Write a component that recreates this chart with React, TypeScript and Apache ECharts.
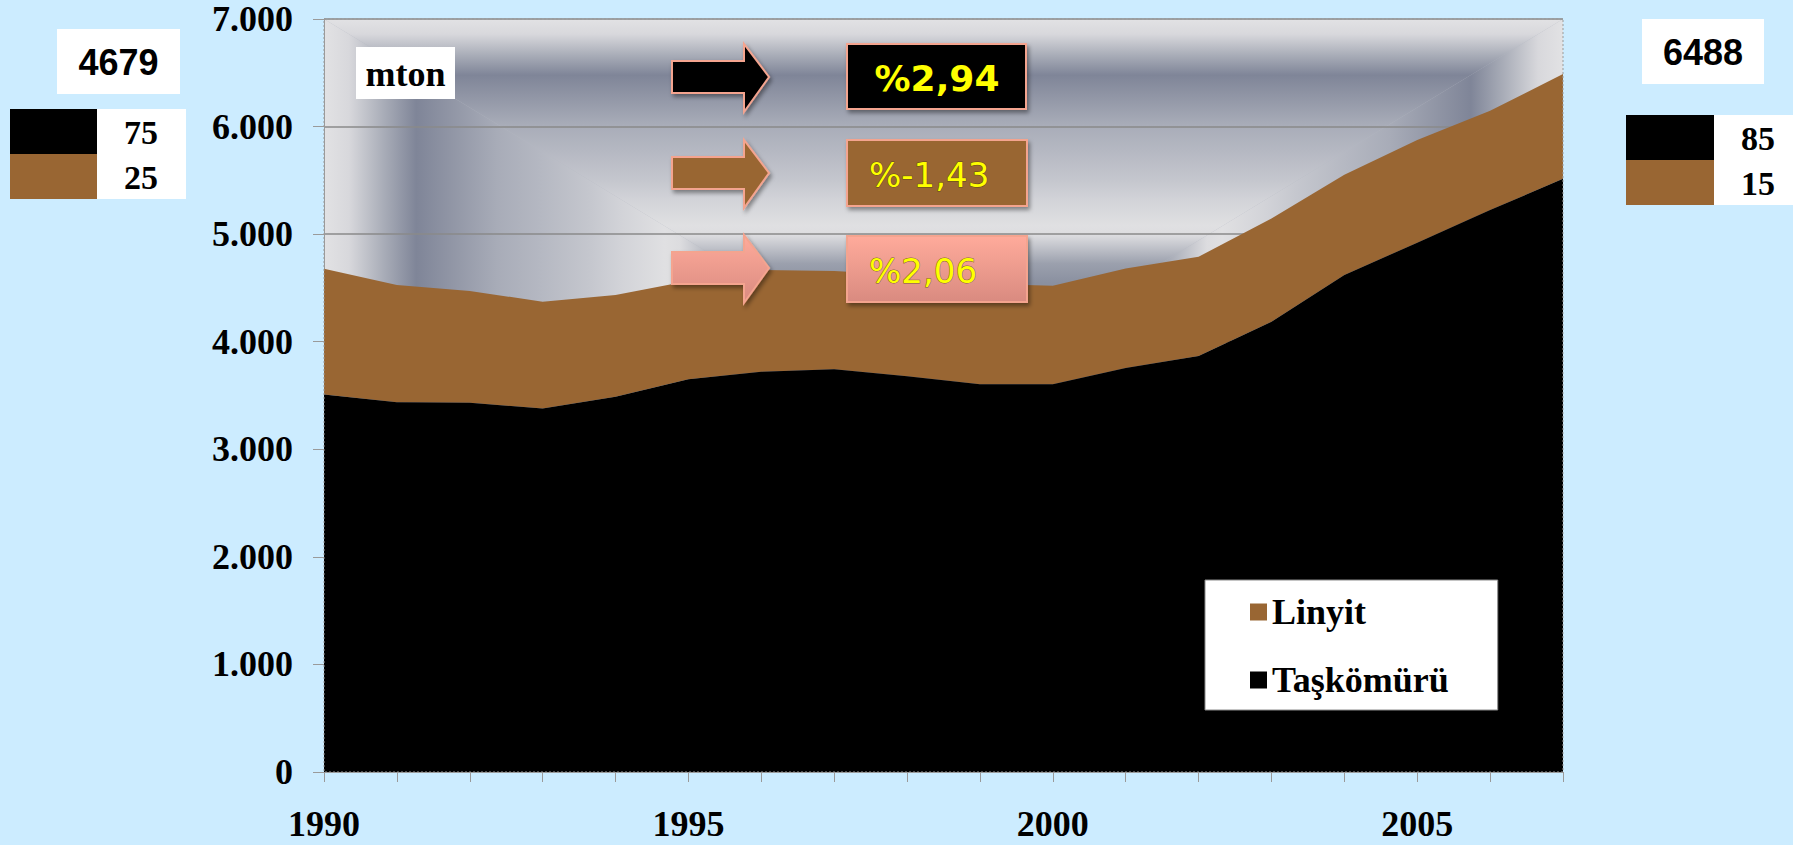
import React, { useEffect, useRef } from "react";
import * as echarts from "echarts";

// World coal production (million tonnes), stacked: hard coal + lignite
const years = [
  "1990", "1991", "1992", "1993", "1994", "1995", "1996", "1997", "1998",
  "1999", "2000", "2001", "2002", "2003", "2004", "2005", "2006", "2007",
];
const taskomuru = [
  3509, 3437, 3433, 3378, 3489, 3650, 3721, 3745, 3680,
  3605, 3605, 3755, 3867, 4186, 4620, 4921, 5224, 5515,
];
const linyit = [
  1170, 1090, 1039, 994, 945, 915, 946, 912, 940,
  935, 916, 925, 923, 959, 933, 954, 922, 973,
];
// Annual growth rates: hard coal, lignite, total
const growthLabels = ["%2,94", "%-1,43", "%2,06"];

const BROWN = "#996633";
const PAGE_BG = "#CCECFF";
const SALMON = "#F4A48F";

const fmtThousands = (v: number) =>
  String(v).replace(/\B(?=(\d{3})+(?!\d))/g, ".");

export default function App() {
  const ref = useRef<HTMLDivElement>(null);

  useEffect(() => {
    if (!ref.current) return;
    const chart = echarts.init(ref.current, null, { renderer: "svg" });

    // plot rectangle
    const L = 324, T = 19, R = 1563, B = 772;
    const CX = (L + R) / 2, CY = (T + B) / 2;

    const bgStops = [
      { offset: 0, color: "#e2e2e4" },
      { offset: 0.04, color: "#d8d8dc" },
      { offset: 0.096, color: "#a9adb8" },
      { offset: 0.149, color: "#7f8598" },
      { offset: 0.2, color: "#8f94a4" },
      { offset: 0.28, color: "#a8acb8" },
      { offset: 0.35, color: "#b5b8c2" },
      { offset: 0.43, color: "#c5c7ce" },
      { offset: 0.48, color: "#d2d3d8" },
      { offset: 0.55, color: "#e0e0e2" },
      { offset: 0.575, color: "#dcdcdf" },
      { offset: 0.65, color: "#9ba0ad" },
      { offset: 0.7, color: "#8a90a0" },
      { offset: 1, color: "#8a90a0" },
    ];
    const grad = (x: number, y: number, x2: number, y2: number) =>
      new echarts.graphic.LinearGradient(x, y, x2, y2, bgStops);

    const tri = (pts: number[][], fill: any) => ({
      type: "polygon",
      silent: true,
      z: -10,
      shape: { points: pts },
      style: { fill },
    });

    const totalFirst = taskomuru[0] + linyit[0];
    const totalLast = taskomuru[taskomuru.length - 1] + linyit[linyit.length - 1];
    const pct = (a: number, t: number) => String(Math.round((a / t) * 100));

    const txt = (
      x: number, y: number, text: string, font: string, fill = "#000",
      align = "center", extra: any = {}
    ) => ({
      type: "text",
      x, y, z: 120, silent: true,
      style: {
        text, font, fill,
        align, textAlign: align,
        verticalAlign: "middle", textVerticalAlign: "middle",
        ...extra,
      },
    });
    const box = (x: number, y: number, w: number, h: number, fill: any, extra: any = {}) => ({
      type: "rect", z: 110, silent: true,
      shape: { x, y, width: w, height: h },
      style: { fill, ...extra },
    });

    const arrowPts = (dy: number) => [
      [672, 61 + dy], [744, 61 + dy], [744, 44 + dy], [769, 77 + dy],
      [744, 112 + dy], [744, 93 + dy], [672, 93 + dy],
    ];
    const shadow = {
      shadowBlur: 4, shadowOffsetX: 2, shadowOffsetY: 3,
      shadowColor: "rgba(0,0,0,0.4)",
    };
    const pink = () =>
      new echarts.graphic.LinearGradient(0, 0, 0, 1, [
        { offset: 0, color: "#ffab9b" },
        { offset: 1, color: "#d98a80" },
      ]);
    const arrow = (dy: number, fill: any) => ({
      type: "polygon", z: 110, silent: true,
      shape: { points: arrowPts(dy) },
      style: { fill, stroke: SALMON, lineWidth: 2, ...shadow },
    });

    const serifBold = (s: number) => `bold ${s}px "Liberation Serif", "Times New Roman", serif`;
    const sansBold = (s: number) => `bold ${s}px "Liberation Sans", Arial, sans-serif`;

    const graphic: any[] = [
      { type: "rect", silent: true, z: -11, shape: { x: L, y: T, width: R - L, height: B - T }, style: { fill: "#b4b8c2" } },
      tri([[L, T], [R, T], [CX, CY]], grad(0, 0, 0, 1)),
      tri([[L, T], [L, B], [CX, CY]], grad(0, 0, 1, 0)),
      tri([[R, T], [R, B], [CX, CY]], grad(1, 0, 0, 0)),
      tri([[L, B], [R, B], [CX, CY]], grad(0, 1, 0, 0)),
      // plot frame
      {
        type: "rect", silent: true, z: 50,
        shape: { x: L, y: T, width: R - L, height: B - T },
        style: { fill: "none", stroke: "#9a9a9a", lineWidth: 1, lineDash: [2, 2] },
      },
      // unit label
      box(356, 47, 99, 52, "#ffffff"),
      txt(405.5, 74, "mton", serifBold(36)),
      // growth arrows and boxes
      arrow(0, "#000000"),
      arrow(96, BROWN),
      arrow(191, pink()),
      box(847, 44, 179, 65, "#000000", { stroke: SALMON, lineWidth: 2, ...shadow }),
      box(847, 140, 180, 66, BROWN, { stroke: SALMON, lineWidth: 2, ...shadow }),
      box(847, 236, 180, 66, pink(), { stroke: SALMON, lineWidth: 2, ...shadow }),
      txt(937, 78, growthLabels[0], `bold 36px "DejaVu Sans", Verdana, sans-serif`, "#ffff00"),
      txt(869, 175, growthLabels[1], `34px "DejaVu Sans", Verdana, sans-serif`, "#ffff00", "left",
        { stroke: "rgba(70,60,0,0.7)", lineWidth: 1 }),
      txt(869, 271, growthLabels[2], `34px "DejaVu Sans", Verdana, sans-serif`, "#ffff00", "left",
        { stroke: "rgba(70,60,0,0.7)", lineWidth: 1 }),
      // first year summary
      box(57, 29, 123, 65, "#ffffff"),
      txt(118.5, 62, String(totalFirst), sansBold(36)),
      box(97, 109, 89, 90, "#ffffff"),
      box(10, 109, 87, 45, "#000000"),
      box(10, 154, 87, 45, BROWN),
      txt(141, 132, pct(taskomuru[0], totalFirst), serifBold(34)),
      txt(141, 177, pct(linyit[0], totalFirst), serifBold(34)),
      // last year summary
      box(1642, 19, 122, 65, "#ffffff"),
      txt(1703, 52, String(totalLast), sansBold(36)),
      box(1714, 115, 79, 90, "#ffffff"),
      box(1626, 115, 88, 45, "#000000"),
      box(1626, 160, 88, 45, BROWN),
      txt(1758, 138, pct(taskomuru[taskomuru.length - 1], totalLast), serifBold(34)),
      txt(1758, 183, pct(linyit[linyit.length - 1], totalLast), serifBold(34)),
    ];

    const labelFont = {
      fontFamily: '"Liberation Serif", "Times New Roman", serif',
      fontWeight: "bold" as const,
      fontSize: 36,
      color: "#000",
    };

    chart.setOption({
      animation: false,
      backgroundColor: PAGE_BG,
      grid: { left: L, top: T, width: R - L, height: B - T, containLabel: false },
      legend: {
        left: 1205,
        top: 580,
        orient: "vertical",
        backgroundColor: "#ffffff",
        borderColor: "#8a8a8a",
        borderWidth: 1,
        padding: [14, 49, 12, 45],
        itemWidth: 17,
        itemHeight: 17,
        itemGap: 32,
        icon: "rect",
        z: 60,
        data: ["Linyit", "Taşkömürü"],
        textStyle: {
          fontFamily: '"Liberation Serif", "Times New Roman", serif',
          fontWeight: "bold",
          fontSize: 36,
          lineHeight: 36,
          color: "#000",
        },
      },
      xAxis: {
        type: "category",
        data: years,
        boundaryGap: false,
        axisLine: { show: true, lineStyle: { color: "#9a9a9a", width: 1 } },
        axisTick: { show: true, interval: 0, length: 10, lineStyle: { color: "#9a9a9a" } },
        axisLabel: {
          ...labelFont,
          margin: 34,
          interval: (i: number) => i % 5 === 0,
        },
        splitLine: { show: false },
      },
      yAxis: {
        type: "value",
        min: 0,
        max: 7000,
        interval: 1000,
        axisLine: { show: true, lineStyle: { color: "#9a9a9a", width: 1 } },
        axisTick: { show: true, length: 11, lineStyle: { color: "#9a9a9a" } },
        axisLabel: { ...labelFont, margin: 31, formatter: (v: number) => fmtThousands(v) },
        splitLine: { show: true, lineStyle: { color: "#8a8a8a", width: 1.5 } },
      },
      graphic,
      series: [
        {
          name: "Taşkömürü",
          type: "line",
          stack: "total",
          data: taskomuru,
          showSymbol: false,
          symbol: "none",
          lineStyle: { width: 0, color: "#000000" },
          itemStyle: { color: "#000000" },
          areaStyle: { color: "#000000", opacity: 1 },
          z: 3,
        },
        {
          name: "Linyit",
          type: "line",
          stack: "total",
          data: linyit,
          showSymbol: false,
          symbol: "none",
          lineStyle: { width: 0, color: BROWN },
          itemStyle: { color: BROWN },
          areaStyle: { color: BROWN, opacity: 1 },
          z: 2,
        },
      ],
    });

    return () => chart.dispose();
  }, []);

  return (
    <div
      ref={ref}
      style={{ position: "absolute", left: 0, top: 0, width: 1793, height: 845, background: PAGE_BG }}
    />
  );
}
